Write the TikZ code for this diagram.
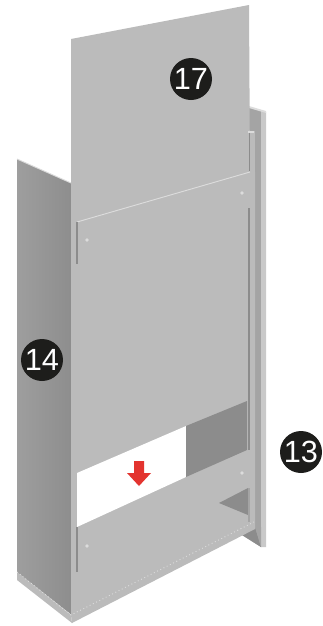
\documentclass[tikz,border=0pt]{standalone}
\usepackage{fontspec}
\setmainfont{Liberation Sans}
\definecolor{panelgrey}{HTML}{BBBBBB}
\definecolor{sidelight}{HTML}{9E9E9E}
\definecolor{sidedark}{HTML}{8D8D8D}
\definecolor{bandgrey}{HTML}{A4A4A4}
\definecolor{shadegrey}{HTML}{8C8C8C}
\definecolor{rimgrey}{HTML}{C9C9C9}
\definecolor{edgegrey}{HTML}{DCDCDC}
\definecolor{badgeblack}{HTML}{1D1D1B}
\definecolor{arrowred}{HTML}{E3342F}
\tikzset{
  badge/.style={circle,fill=badgeblack,text=white,inner sep=0pt,minimum size=31.5pt,font=\fontsize{23}{23}\selectfont},
  crease/.style={draw=shadegrey,line width=0.8pt},
  seam/.style={draw=edgegrey,line width=0.7pt},
  hole/.style={fill=edgegrey}
}
\begin{document}
\begin{tikzpicture}[x=0.75pt,y=-0.75pt]
  \useasboundingbox (0,0) rectangle (323,626);
  \coordinate (a) at (71,39);
  \coordinate (b) at (249,5);
  \coordinate (c) at (250,172);
  \coordinate (d) at (71,183);
  \coordinate (e) at (17,159);
  \coordinate (f) at (17,572);
  \coordinate (g) at (72,623);
  \coordinate (h) at (255,529);
  \coordinate (s) at (71,615);
  % right strip
  \fill[bandgrey] (249,107) -- (261,111) -- (261,547) -- (242,535) -- (242,130) -- cycle;
  \fill[rimgrey] (261,111) -- (266,112) -- (266,547) -- (261,547) -- cycle;
  \fill[edgegrey] (249,106) -- (266,111) -- (266,113) -- (249,108) -- cycle;
  \fill[panelgrey] (249,131) rectangle (255,525);
  \fill[shadegrey] (242,535) -- (255,527) -- (261,547) -- cycle;
  \fill[bandgrey] (255,527) -- (261,527) -- (261,547) -- cycle;
  % left side
  \fill[panelgrey] (f) -- (s) -- (g) -- (17,580) -- cycle;
  \shade[left color=sidelight,right color=sidedark] (e) -- (73,184) -- (73,616) -- (f) -- cycle;
  \draw[seam] (e) -- (d);
  % upper sheet and front
  \fill[panelgrey] (a) -- (b) -- (c) -- (255,172) -- (255,525) -- (h) -- (g) -- (s) -- (d) -- cycle;
  \draw[seam] (77,222) -- (c);
  \draw[crease] (77,222) -- (77,264);
  \draw[crease] (77,527) -- (77,572);
  \draw[crease] (249.5,133) -- (249.5,171);
  \draw[crease] (249,208) -- (249,450);
  \fill[edgegrey] (248,131) rectangle (254,133);
  % openings
  \fill[white] (77,473) -- (186,426) -- (186,477) -- (77,527) -- cycle;
  \fill[shadegrey] (186,426) -- (247,401) -- (247,450) -- (186,477) -- cycle;
  \fill[shadegrey] (219,503) -- (248,488) -- (248,515) -- cycle;
  \fill[bandgrey] (248,488) rectangle (250,522);
  \draw[seam,dotted] (f) -- (s) -- (254,522);
  % screw holes
  \foreach \x/\y in {87/240,242/193,87/546,242/473} {
    \fill[hole] (\x,\y) circle (1.8);
  }
  % red arrow
  \fill[arrowred] (134,461) -- (144,461) -- (144,473) -- (151,473) -- (139,486) -- (127,473) -- (134,473) -- cycle;
  \node[badge] (b17) at (191,79) {17};
  \node[badge] (b14) at (42,360) {14};
  \node[badge] (b13) at (301,452) {13};
\end{tikzpicture}
\end{document}
